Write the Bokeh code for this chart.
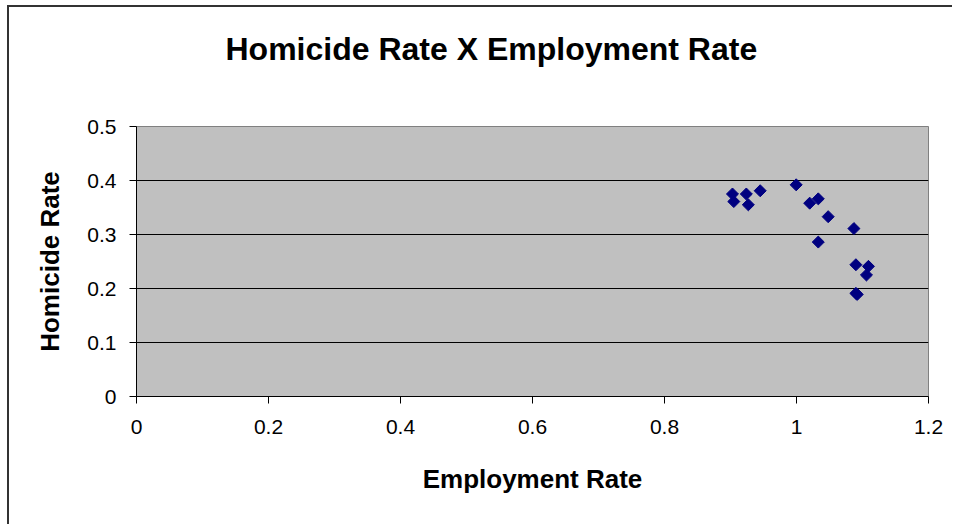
import math
from bokeh.plotting import figure
from bokeh.models import Range1d, FixedTicker, ColumnDataSource, Title
from bokeh.embed import file_html
from bokeh.resources import INLINE

employment_rate = [0.903, 0.905, 0.924, 0.927, 0.945, 0.9995, 1.020, 1.033, 1.048,
                   1.087, 1.033, 1.090, 1.109, 1.106, 1.090, 1.092]
homicide_rate = [0.375, 0.361, 0.375, 0.355, 0.381, 0.392, 0.358, 0.366, 0.333,
                 0.311, 0.286, 0.244, 0.241, 0.225, 0.191, 0.189]
x_ticks = [0, 0.2, 0.4, 0.6, 0.8, 1, 1.2]
y_ticks = [0, 0.1, 0.2, 0.3, 0.4, 0.5]
title_text = "Homicide Rate X Employment Rate"
x_label = "Employment Rate"
y_label = "Homicide Rate"

FONT = "Liberation Sans"

p = figure(width=960, height=524, output_backend="svg", toolbar_location=None,
           x_range=Range1d(0, 1.2), y_range=Range1d(0, 0.5),
           min_border_left=136, min_border_right=32, min_border_top=126,
           min_border_bottom=128)
p.background_fill_color = "#c0c0c0"
p.border_fill_color = None
p.outline_line_color = "#808080"
p.outline_line_width = 1
# outer chart-area border (top and left edges visible in the reference)
p.styles = {
    "background": ("linear-gradient(#333333, #333333) 7px 5px / 945px 2px no-repeat, "
                   "linear-gradient(#333333, #333333) 7px 5px / 2px 530px no-repeat, "
                   "white"),
}

src = ColumnDataSource(dict(x=employment_rate, y=homicide_rate))
p.scatter("x", "y", source=src, marker="square", size=8.5, angle=math.pi / 4,
          fill_color="#000080", line_color="#000080")

p.xgrid.visible = False
p.ygrid.ticker = FixedTicker(ticks=[0.1, 0.2, 0.3, 0.4])
p.ygrid.grid_line_color = "black"
p.ygrid.grid_line_width = 1

for ax, ticks in ((p.xaxis[0], x_ticks), (p.yaxis[0], y_ticks)):
    ax.ticker = FixedTicker(ticks=ticks)
    ax.minor_tick_line_color = None
    ax.major_tick_in = 0
    ax.major_tick_out = 7
    ax.axis_line_color = "black"
    ax.major_tick_line_color = "black"
    ax.major_label_text_font = FONT
    ax.major_label_text_font_size = "21px"
    ax.major_label_text_color = "black"
    ax.axis_label_text_font = FONT
    ax.axis_label_text_font_size = "26px"
    ax.axis_label_text_font_style = "bold"
    ax.axis_label_text_color = "black"

p.xaxis[0].axis_label = x_label
p.yaxis[0].axis_label = y_label
p.xaxis[0].major_label_standoff = 16
p.yaxis[0].major_label_standoff = 13
p.xaxis[0].axis_label_standoff = 27
p.yaxis[0].axis_label_standoff = 19
p.xaxis[0].major_label_overrides = {0: "0", 1: "1"}
p.yaxis[0].major_label_overrides = {0: "0"}

# a blank second line lifts the title text toward the top of the chart area
p.add_layout(Title(text=title_text + "\n ", text_font=FONT, text_font_size="32px",
                   text_font_style="bold", text_color="black", align="left",
                   offset=89, standoff=48), "above")

open("out.html", "w").write(file_html(p, INLINE))
